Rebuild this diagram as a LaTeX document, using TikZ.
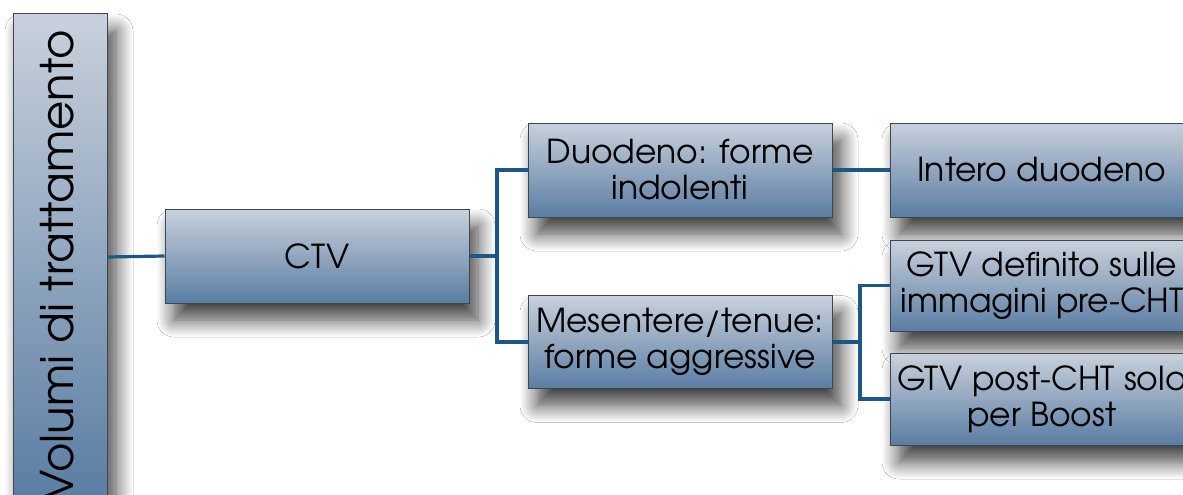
\documentclass[tikz,border=0pt]{standalone}
\usepackage{fontspec}
\setmainfont{TeX Gyre Adventor}
\usetikzlibrary{shadows.blur}
\definecolor{boxtop}{HTML}{C9D1DC}
\definecolor{boxbot}{HTML}{5A7DA3}
\definecolor{linec}{HTML}{1B5886}
\definecolor{edgec}{HTML}{3F4650}
\begin{document}
\begin{tikzpicture}[x=1pt,y=-1pt,
  box/.style={rectangle, draw=edgec, line width=1pt, top color=boxtop, bottom color=boxbot,
    minimum width=304pt, minimum height=94pt, align=center, inner sep=0pt,
    font=\fontsize{33}{36}\selectfont, text=black,
    blur shadow={shadow xshift=9pt, shadow yshift=-17pt, shadow blur radius=17pt, shadow blur steps=12, shadow opacity=75}},
  conn/.style={draw=linec, line width=3.2pt}]
\useasboundingbox (0,0) rectangle (1183,495);
\fill[white] (0,0) rectangle (1183,495);
\clip (0,0) rectangle (1183,495);
\node[box, minimum width=94pt, minimum height=486pt] (root) at (60,257) {};
\node[rotate=90, font=\fontsize{45}{45}\selectfont, text=black] (roottext) at (57,266) {Volumi di trattamento};
\node[box] (ctv) at (317,256) {CTV};
\node[box] (duo) at (680,170) {Duodeno: forme\\indolenti};
\node[box, minimum height=93pt] (mes) at (680,342) {Mesentere/tenue:\\forme aggressive};
\node[box] (int) at (1042,170) {Intero duodeno};
\node[box, minimum height=91pt] (gdef) at (1042,285.5) {GTV definito sulle\\immagini pre-CHT};
\node[box, minimum height=92pt] (gpost) at (1042,399) {GTV post-CHT solo\\per Boost};
\coordinate (j1) at (497,0);
\coordinate (j2) at (860,0);
\draw[conn] (root.east) -- (ctv.west);
\draw[conn] (ctv.east) -- (ctv.east -| j1) |- (duo.west);
\draw[conn] (ctv.east -| j1) |- (mes.west);
\draw[conn] (duo.east) -- (int.west);
\draw[conn] (mes.east) -- (mes.east -| j2) |- (gdef.west);
\draw[conn] (mes.east -| j2) |- (gpost.west);
\end{tikzpicture}
\end{document}
